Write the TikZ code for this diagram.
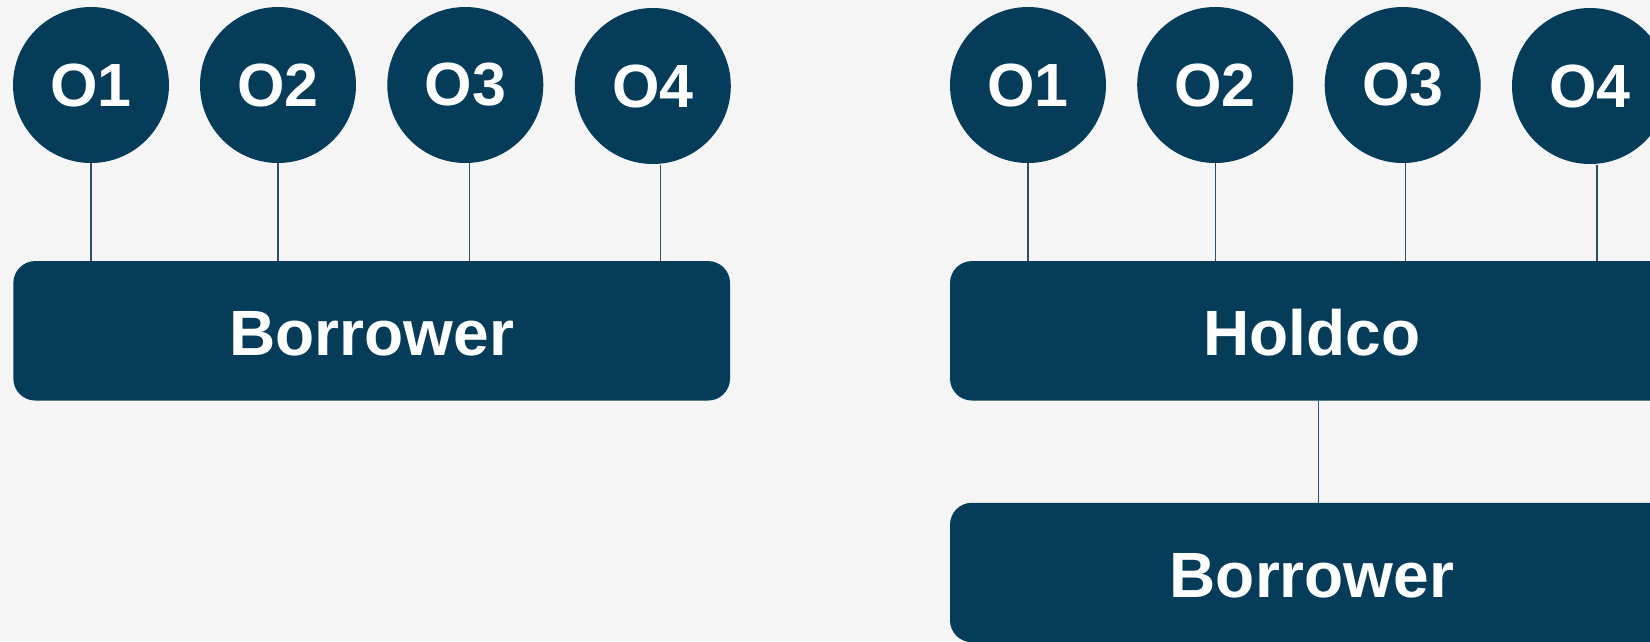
\documentclass[tikz,border=0pt]{standalone}
\usepackage{fontspec}
\setmainfont{Liberation Sans}
\begin{document}
\begin{tikzpicture}[x=1pt,y=-1pt,
  every node/.style={font=\fontsize{64}{70}\selectfont\bfseries, text=white},
  owner/.style={circle, fill=navy, minimum size=156pt, inner sep=0pt, font=\fontsize{61}{66}\selectfont\bfseries},
  entity/.style={rectangle, rounded corners=22pt, fill=navy, minimum height=139.5pt, inner sep=0pt, text height=50pt, text depth=0pt},
  link/.style={draw=linkc, line width=1.3pt}]
\definecolor{navy}{RGB}{4,60,89}
\definecolor{linkc}{RGB}{40,80,105}
\definecolor{bg}{RGB}{245,245,245}
\useasboundingbox (0,0) rectangle (1650,641);
\clip (0,0) rectangle (1650,641);
\fill[bg] (0,0) rectangle (1650,641);
% left structure
\node[owner] (la) at (91,85) {O1};
\node[owner] (lb) at (278,85) {O2};
\node[owner] (lc) at (465.3,85) {O3};
\node[owner] (ld) at (652.8,86) {O4};
\node[entity, minimum width=716.7pt] (lborrower) at (371.7,330.8) {Borrower};
\draw[link] (la.south) -- (la.south |- lborrower.north);
\draw[link] (lb.south) -- (lb.south |- lborrower.north);
\draw[link] ([xshift=4pt]lc.south) -- ([xshift=4pt]lc.south |- lborrower.north);
\draw[link] ([xshift=7.9pt,yshift=-0.5pt]ld.south) -- ([xshift=7.9pt]ld.south |- lborrower.north);
% right structure
\node[owner] (ra) at (1028,85) {O1};
\node[owner] (rb) at (1215.2,85) {O2};
\node[owner] (rc) at (1402.7,85) {O3};
\node[owner] (rd) at (1590,86) {O4};
\node[entity, minimum width=724pt] (holdco) at (1312,330.8) {Holdco};
\node[entity, minimum width=724pt] (rborrower) at (1312,572.5) {Borrower};
\draw[link] (ra.south) -- (ra.south |- holdco.north);
\draw[link] (rb.south) -- (rb.south |- holdco.north);
\draw[link] ([xshift=3.1pt]rc.south) -- ([xshift=3.1pt]rc.south |- holdco.north);
\draw[link] ([xshift=7pt,yshift=-0.5pt]rd.south) -- ([xshift=7pt]rd.south |- holdco.north);
\draw[link] ([xshift=6.5pt]holdco.south) -- ([xshift=6.5pt]holdco.south |- rborrower.north);
\end{tikzpicture}
\end{document}
